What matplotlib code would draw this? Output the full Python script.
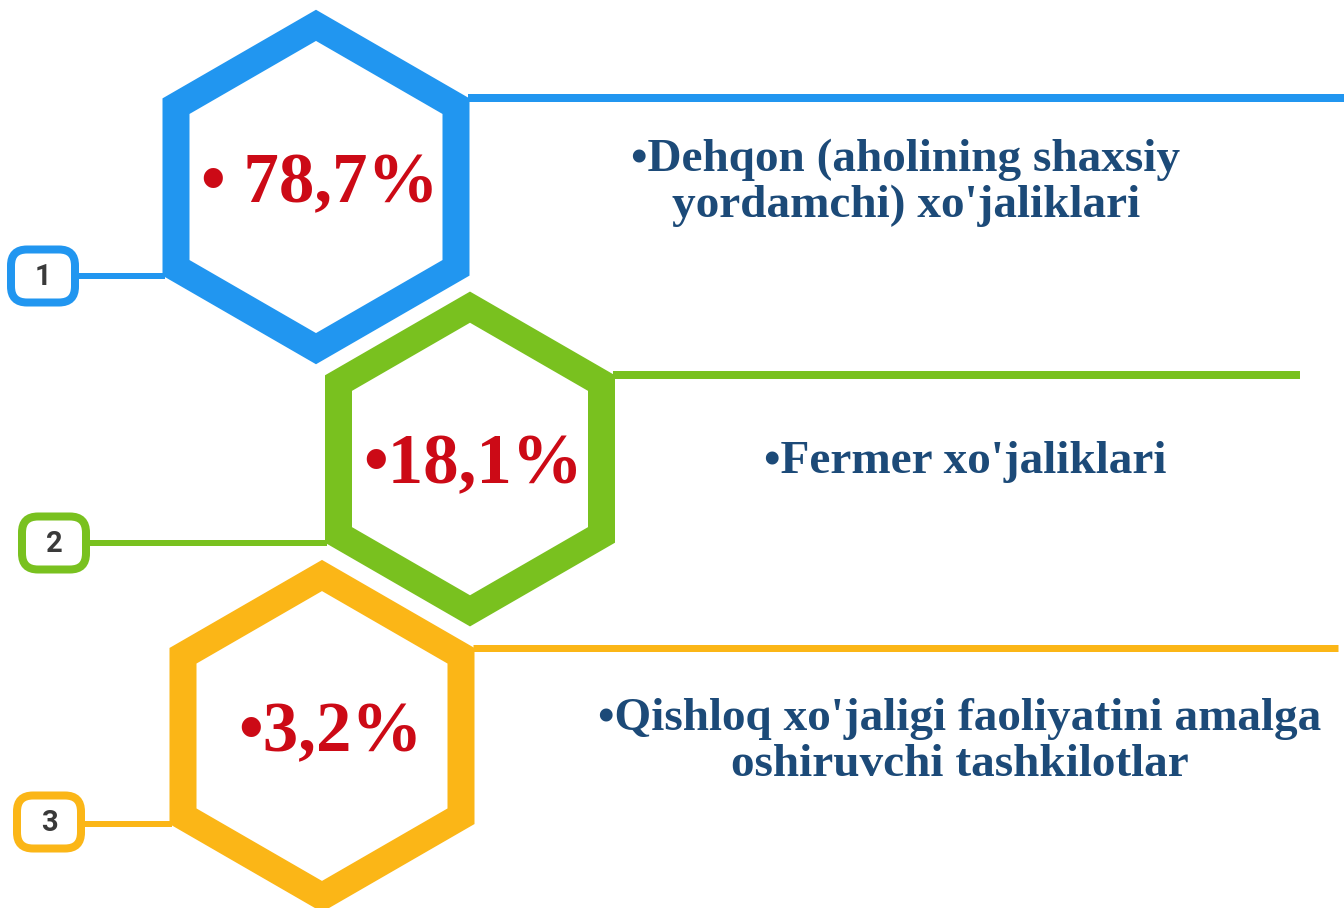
import matplotlib
matplotlib.use("Agg")
import matplotlib.pyplot as plt
from matplotlib.patches import RegularPolygon, FancyBboxPatch

# ---- data ----
numbers = ["1", "2", "3"]
shares = [78.7, 18.1, 3.2]
share_prefix = ["\u2022 ", "\u2022", "\u2022"]
labels = [
    "\u2022Dehqon (aholining shaxsiy\nyordamchi) xo'jaliklari",
    "\u2022Fermer xo'jaliklari",
    "\u2022Qishloq xo'jaligi faoliyatini amalga\noshiruvchi tashkilotlar",
]

# ---- style / layout ----
colors = ["#2196F0", "#79C11F", "#FBB617"]
red = "#CC0A16"
navy = "#1C4A78"
W, H = 1344, 908
hex_cx = [316, 470, 322]
hex_cy = [187, 459, 736]
hex_half_w = [140, 131.5, 139]          # centreline half-width (px)
stroke_px = 27
right_line_end = [1344, 1300, 1338]
right_line_w = [8, 8, 7]
box_cx = [43, 54, 49]
box_cy = [276, 543, 822]
box_w, box_h = 64, 53
pct_x = [320, 473, 330]
pct_base = [202, 483, 751]
label_x = [906, 965, 960]
label_y = [183, 462, 742]

fig = plt.figure(figsize=(W / 100, H / 100), dpi=100)
ax = fig.add_axes([0, 0, 1, 1])
ax.set_xlim(0, W)
ax.set_ylim(H, 0)
ax.set_aspect("equal")
ax.axis("off")

px2pt = 72 / 100

for i in range(3):
    c = colors[i]
    R = hex_half_w[i] / (3 ** 0.5 / 2)
    outer_hw = hex_half_w[i] + stroke_px / 2
    outer_R = outer_hw / (3 ** 0.5 / 2)
    cx, cy = hex_cx[i], hex_cy[i]
    # right connector at upper-right corner
    ax.plot([cx + outer_hw - 2, right_line_end[i]], [cy - outer_R / 2, cy - outer_R / 2],
            color=c, lw=right_line_w[i] * px2pt, solid_capstyle="butt", zorder=1)
    # left connector from box to lower-left corner
    ax.plot([box_cx[i] + box_w / 2, cx - outer_hw + 2], [cy + outer_R / 2, cy + outer_R / 2],
            color=c, lw=6 * px2pt, solid_capstyle="butt", zorder=1)
    hexagon = RegularPolygon((cx, cy), numVertices=6, radius=R, orientation=0,
                             facecolor="white", edgecolor=c,
                             linewidth=stroke_px * px2pt, joinstyle="miter", zorder=2)
    ax.add_patch(hexagon)
    # numbered box
    pad = 14
    box = FancyBboxPatch((box_cx[i] - box_w / 2 + pad, box_cy[i] - box_h / 2 + pad),
                         box_w - 2 * pad, box_h - 2 * pad,
                         boxstyle=f"round,pad={pad},rounding_size=16",
                         facecolor="white", edgecolor=c, linewidth=8 * px2pt, zorder=3)
    ax.add_patch(box)
    ax.text(box_cx[i], box_cy[i] + 1, numbers[i], ha="center", va="center",
            fontsize=21, fontweight="bold", color="#3a3a3a", family="Roboto", zorder=4)
    # percentage
    pct = share_prefix[i] + f"{shares[i]:.1f}".replace(".", ",") + "%"
    ax.text(pct_x[i], pct_base[i], pct, ha="center", va="baseline", fontsize=51,
            fontweight="bold", color=red, family="Liberation Serif", zorder=4)
    # label
    ax.text(label_x[i], label_y[i], labels[i], ha="center", va="center",
            fontsize=34, fontweight="bold", color=navy, family="Liberation Serif",
            linespacing=1.1, zorder=4)

fig.savefig("out.png", dpi=100, facecolor="white")
